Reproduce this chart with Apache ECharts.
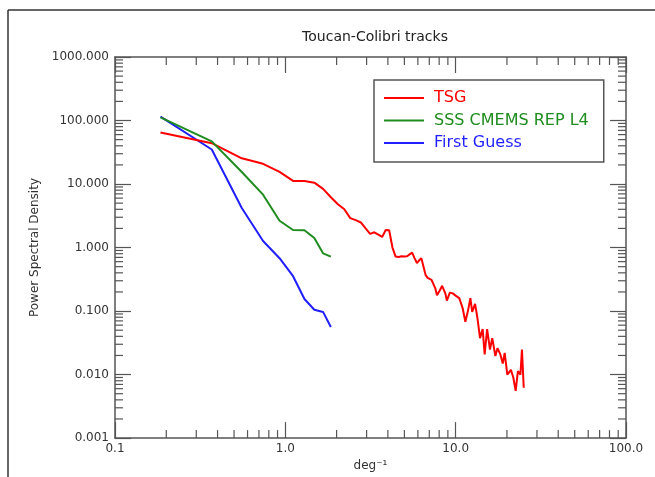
<!DOCTYPE html>
<html>
<head>
<meta charset="utf-8">
<script src="https://cdn.jsdelivr.net/npm/echarts@6/dist/echarts.min.js"></script>
<style>
  html, body { margin: 0; padding: 0; background: #fff; }
  #chart { width: 655px; height: 477px; }
</style>
</head>
<body>
<div id="chart"></div>
<script>
// wavenumbers (deg^-1) for the two gridded products
const freqShort = [0.185, 0.37, 0.555, 0.74, 0.925, 1.11, 1.295, 1.48, 1.665, 1.85];
const sssPsd = [112, 47, 15.5, 6.8, 2.64, 1.89, 1.87, 1.41, 0.81, 0.72];
const guessPsd = [115, 35, 4.2, 1.27, 0.68, 0.354, 0.155, 0.105, 0.097, 0.056];

// TSG spectrum
const tsgFreq = [
  0.185, 0.37, 0.555, 0.74, 0.925, 1.11, 1.295, 1.48, 1.665, 1.85,
  2.035, 2.22, 2.405, 2.59, 2.775, 2.96, 3.145, 3.33, 3.515, 3.7,
  3.885, 4.07, 4.255, 4.44, 4.625, 4.81, 4.995, 5.18, 5.365, 5.55,
  5.735, 5.92, 6.105, 6.29, 6.475, 6.66, 6.845, 7.03, 7.215, 7.4,
  7.585, 7.77, 7.955, 8.14, 8.325, 8.51, 8.695, 8.88, 9.065, 9.25,
  9.435, 9.62, 9.805, 9.99, 10.2, 10.5, 10.7, 11.0, 11.4, 11.8,
  12.2, 12.5, 13.0, 13.4, 13.9, 14.4, 14.8, 15.3, 15.9, 16.4,
  17.1, 17.6, 18.3, 18.9, 19.4, 20.1, 21.1, 21.8, 22.5, 23.2,
  24.0, 24.5, 25.1
];
const tsgPsd = [
  65, 44, 25.4, 20.8, 15.5, 11.2, 11.2, 10.5, 8.4, 6.2,
  4.8, 4.0, 2.9, 2.7, 2.48, 2.0, 1.64, 1.74, 1.6, 1.47,
  1.89, 1.87, 1.0, 0.72, 0.71, 0.73, 0.72, 0.73, 0.78, 0.83,
  0.68, 0.57, 0.63, 0.68, 0.5, 0.37, 0.333, 0.33, 0.31, 0.296,
  0.23, 0.178, 0.19, 0.22, 0.25, 0.24, 0.19, 0.146, 0.17, 0.195,
  0.2, 0.19, 0.18, 0.175, 0.174, 0.16, 0.16, 0.11, 0.068, 0.1,
  0.16, 0.097, 0.13, 0.08, 0.0375, 0.052, 0.0208, 0.052, 0.0248, 0.0375,
  0.0196, 0.026, 0.0208, 0.0149, 0.022, 0.01, 0.0119, 0.009, 0.00555, 0.0113,
  0.01, 0.0248, 0.0062
];

// minor tick values for the log axes
const xMinor = [0.2, 0.3, 0.4, 0.5, 0.6, 0.7, 0.8, 0.9, 2, 3, 4, 5, 6, 7, 8, 9, 20, 30, 40, 50, 60, 70, 80, 90];
const yMinor = [];
[0.001, 0.01, 0.1, 1, 10, 100].forEach((d) => {
  [2, 3, 4, 5, 6, 7, 8, 9].forEach((m) => yMinor.push(+(d * m).toPrecision(2)));
});

const FONT = "DejaVu Sans";
const AXIS_COLOR = "#555";

const pairs = (xs, ys) => xs.map((x, i) => [x, ys[i]]);

const chart = echarts.init(document.getElementById("chart"));

function baseAxis(extra) {
  return Object.assign(
    {
      type: "log",
      logBase: 10,
      axisLine: { show: true, onZero: false, lineStyle: { color: AXIS_COLOR, width: 1.5 } },
      axisTick: { show: true, inside: true, length: 16, lineStyle: { color: AXIS_COLOR, width: 1.2 } },
      splitLine: { show: false },
    },
    extra
  );
}

chart.setOption({
  animation: false,
  backgroundColor: "#fff",
  title: {
    text: "Toucan-Colibri tracks",
    left: 370,
    top: 25,
    textAlign: "center",
    textStyle: { fontFamily: FONT, fontSize: 14, fontWeight: "normal", color: "#222" },
  },
  grid: { left: 115, right: 29, top: 57, bottom: 32 },
  legend: {
    orient: "vertical",
    left: 374,
    top: 80,
    padding: [9, 15, 10, 10],
    itemGap: 4.5,
    itemWidth: 40,
    itemHeight: 2,
    icon: "rect",
    borderColor: "#555",
    borderWidth: 1.5,
    backgroundColor: "#fff",
    textStyle: { fontFamily: FONT, fontSize: 16, lineHeight: 18, padding: [0, 0, 0, 5] },
    data: [
      { name: "TSG", textStyle: { color: "#ff0000" } },
      { name: "SSS CMEMS REP L4", textStyle: { color: "#1e8c1e" } },
      { name: "First Guess", textStyle: { color: "#1f1fff" } },
    ],
  },
  xAxis: [
    baseAxis({
      position: "bottom",
      min: 0.1,
      max: 100,
      name: "deg⁻¹",
      nameLocation: "middle",
      nameGap: 20,
      nameTextStyle: { fontFamily: FONT, fontSize: 12, color: "#333" },
      axisLabel: {
        margin: 5,
        fontFamily: FONT,
        fontSize: 12,
        color: "#333",
        formatter: (v) => v.toFixed(1),
      },
    }),
    baseAxis({ position: "top", min: 0.1, max: 100, axisLabel: { show: false } }),
  ],
  yAxis: [
    baseAxis({
      position: "left",
      min: 0.001,
      max: 1000,
      name: "Power Spectral Density",
      nameLocation: "middle",
      nameGap: 67,
      nameTextStyle: { fontFamily: FONT, fontSize: 12, color: "#333" },
      axisLabel: {
        margin: 6,
        fontFamily: FONT,
        fontSize: 12,
        color: "#333",
        formatter: (v) => v.toFixed(3),
      },
    }),
    baseAxis({ position: "right", min: 0.001, max: 1000, axisLabel: { show: false } }),
  ],
  graphic: [
    { type: "line", shape: { x1: 8, y1: 10, x2: 655, y2: 10 }, style: { stroke: "#333", lineWidth: 1.5 }, silent: true },
    { type: "line", shape: { x1: 8, y1: 10, x2: 8, y2: 477 }, style: { stroke: "#333", lineWidth: 1.5 }, silent: true },
  ],
  series: [
    {
      name: "TSG",
      type: "line",
      data: pairs(tsgFreq, tsgPsd),
      symbol: "none",
      lineStyle: { color: "#ff0000", width: 2 },
      itemStyle: { color: "#ff0000" },
      z: 3,
    },
    {
      name: "SSS CMEMS REP L4",
      type: "line",
      data: pairs(freqShort, sssPsd),
      symbol: "none",
      lineStyle: { color: "#1e8c1e", width: 2 },
      itemStyle: { color: "#1e8c1e" },
      z: 4,
    },
    {
      name: "First Guess",
      type: "line",
      data: pairs(freqShort, guessPsd),
      symbol: "none",
      lineStyle: { color: "#1f1fff", width: 2 },
      itemStyle: { color: "#1f1fff" },
      z: 2,
    },
    {
      // minor ticks on bottom / top axes
      type: "custom",
      silent: true,
      data: xMinor.map((v) => [v, 1]),
      renderItem: (params, api) => {
        const c = params.coordSys;
        const p = api.coord([api.value(0), 1]);
        const style = { stroke: AXIS_COLOR, lineWidth: 1.2 };
        return {
          type: "group",
          children: [
            { type: "line", shape: { x1: p[0], y1: c.y + c.height, x2: p[0], y2: c.y + c.height - 8 }, style },
            { type: "line", shape: { x1: p[0], y1: c.y, x2: p[0], y2: c.y + 8 }, style },
          ],
        };
      },
    },
    {
      // minor ticks on left / right axes
      type: "custom",
      silent: true,
      data: yMinor.map((v) => [1, v]),
      renderItem: (params, api) => {
        const c = params.coordSys;
        const p = api.coord([1, api.value(1)]);
        const style = { stroke: AXIS_COLOR, lineWidth: 1.2 };
        return {
          type: "group",
          children: [
            { type: "line", shape: { x1: c.x, y1: p[1], x2: c.x + 8, y2: p[1] }, style },
            { type: "line", shape: { x1: c.x + c.width, y1: p[1], x2: c.x + c.width - 8, y2: p[1] }, style },
          ],
        };
      },
    },
  ],
});
</script>
</body>
</html>
